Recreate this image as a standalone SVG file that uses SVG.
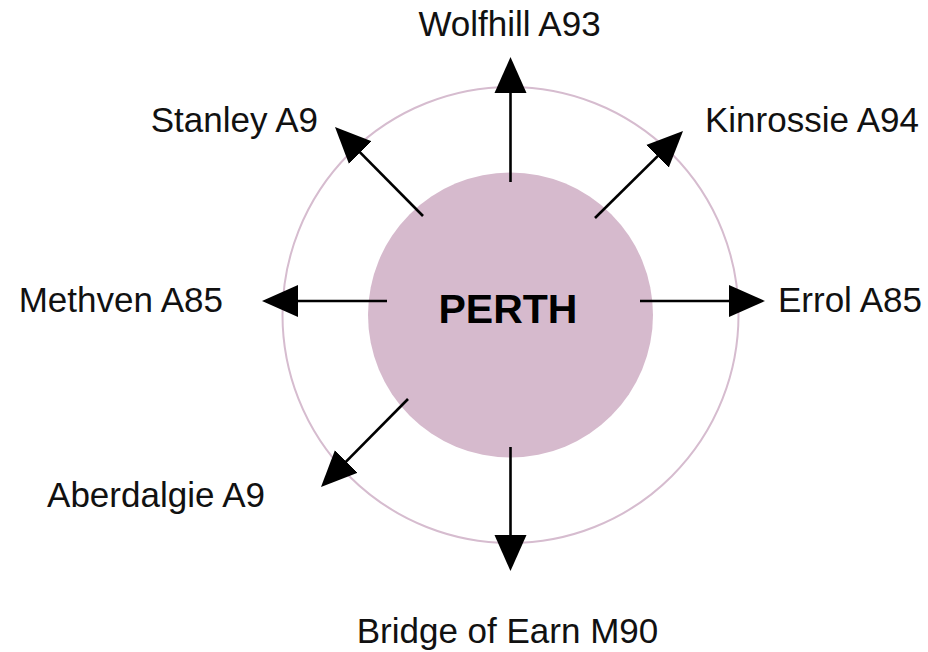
<svg xmlns="http://www.w3.org/2000/svg" width="928" height="652" viewBox="0 0 928 652">
  <style>
    .lbl { font-family: "Liberation Sans", Arial, Helvetica, sans-serif; font-size: 35px; fill: #111111; }
    .title { font-family: "Liberation Sans", Arial, Helvetica, sans-serif; font-size: 41px; font-weight: bold; fill: #000000; }
    .conn { stroke: #000000; stroke-width: 2.6; fill: none; marker-end: url(#arrow); }
  </style>
  <defs>
    <marker id="arrow" markerUnits="userSpaceOnUse" markerWidth="37" markerHeight="33" refX="32" refY="16" orient="auto" viewBox="0 0 37 32">
      <path d="M0,0 L36,16 L0,32 Z" fill="#000000"/>
    </marker>
  </defs>
  <rect width="928" height="652" fill="#ffffff"/>
  <g id="ring">
    <circle cx="510.5" cy="315" r="228" fill="none" stroke="#d6bccf" stroke-width="2"/>
  </g>
  <g id="perth">
    <circle cx="510.5" cy="315" r="142.5" fill="#d6bacd"/>
    <text class="title" x="508" y="323" text-anchor="middle">PERTH</text>
  </g>
  <g id="connectors">
    <line class="conn" x1="510.5" y1="182" x2="510.5" y2="61"/>
    <line class="conn" x1="510.5" y1="447" x2="510.5" y2="567"/>
    <line class="conn" x1="387" y1="301" x2="266" y2="301"/>
    <line class="conn" x1="640" y1="301" x2="761" y2="301"/>
    <line class="conn" x1="595" y1="218" x2="680.2" y2="133.8"/>
    <line class="conn" x1="423" y1="216" x2="337.8" y2="129.8"/>
    <line class="conn" x1="408" y1="399" x2="323.8" y2="484.2"/>
  </g>
  <g id="wolfhill"><text class="lbl" x="509.5" y="36" text-anchor="middle">Wolfhill A93</text></g>
  <g id="kinrossie"><text class="lbl" x="705" y="132">Kinrossie A94</text></g>
  <g id="errol"><text class="lbl" x="778" y="312">Errol A85</text></g>
  <g id="bridge-of-earn"><text class="lbl" x="507.5" y="643" text-anchor="middle">Bridge of Earn M90</text></g>
  <g id="aberdalgie"><text class="lbl" x="265" y="507" text-anchor="end">Aberdalgie A9</text></g>
  <g id="methven"><text class="lbl" x="223" y="312" text-anchor="end">Methven A85</text></g>
  <g id="stanley"><text class="lbl" x="318" y="132" text-anchor="end">Stanley A9</text></g>
</svg>
